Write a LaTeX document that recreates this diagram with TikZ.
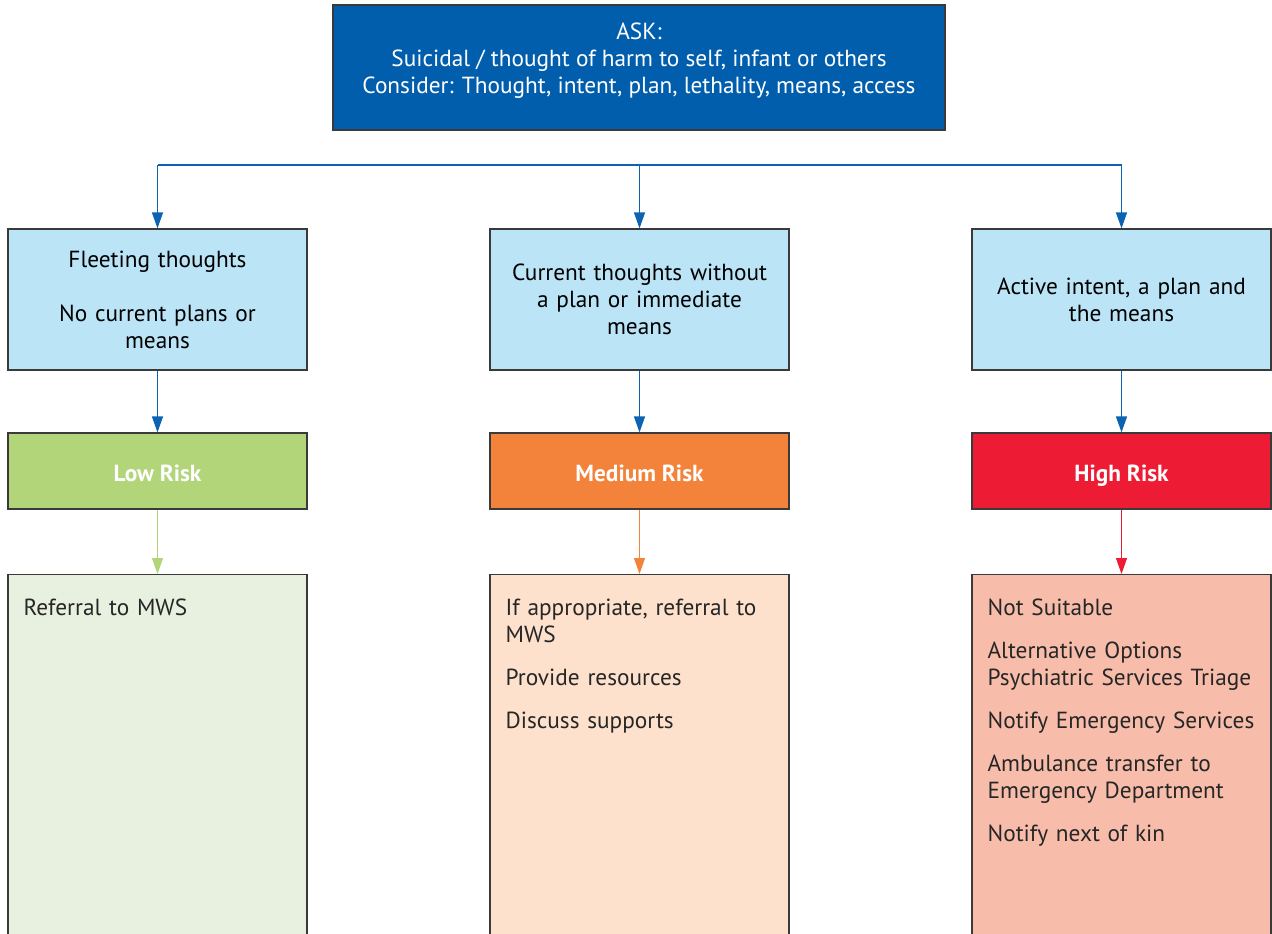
\documentclass[tikz,border=0pt]{standalone}
\usepackage{fontspec}
\setmainfont{PT Sans}
\usetikzlibrary{arrows.meta}

\definecolor{askblue}{HTML}{005EAD}
\definecolor{paleblue}{HTML}{BBE4F7}
\definecolor{lineblue}{HTML}{0B63B1}
\definecolor{boxline}{HTML}{3A3A3A}
\definecolor{lowgreen}{HTML}{B2D57A}
\definecolor{medorange}{HTML}{F3823A}
\definecolor{highred}{HTML}{ED1B34}
\definecolor{lowpale}{HTML}{E8F0DF}
\definecolor{medpale}{HTML}{FDE1CC}
\definecolor{highpale}{HTML}{F8BDAA}

\tikzset{
  every node/.style={font=\fontsize{23.3}{27}\selectfont},
  askbox/.style={draw=boxline, fill=askblue, line width=1.2pt, minimum width=612, minimum height=125},
  levelbox/.style={draw=boxline, fill=paleblue, line width=1.2pt, minimum width=299, minimum height=141, text width=290, align=center},
  riskbox/.style={draw=boxline, line width=1.2pt, minimum width=299, minimum height=76, text height=23, text depth=3, text=white, font=\fontsize{23.3}{27}\selectfont\bfseries},
  actionbox/.style={draw=boxline, line width=1.2pt, minimum width=299, minimum height=420, anchor=north},
  actiontext/.style={anchor=north west, align=left, text width=280, inner sep=0pt, text=black!85},
  flow/.style={-{Triangle[width=11pt,length=16pt]}, line width=1.3pt, draw=lineblue},
}

\begin{document}
\begin{tikzpicture}[x=1pt, y=-1pt]
  \useasboundingbox (0,0) rectangle (1272,934);

  % question at the top
  \node[askbox] (ask) at (639,67.5) {};
  \node[text=white, align=center] (asktext) at (639,60.5) {ASK:\\Suicidal / thought of harm to self, infant or others\\Consider: Thought, intent, plan, lethality, means, access};

  % what the person reports
  \node[levelbox] (fleet) at (157.5,299.5) {Fleeting thoughts\\[27pt]No current plans or\\means};
  \node[levelbox] (current) at (639.5,299.5) {Current thoughts without\\a plan or immediate\\means};
  \node[levelbox] (active) at (1121.5,299.5) {Active intent, a plan and\\the means};

  \coordinate (bar) at (0,165);
  \draw[lineblue, line width=1.3pt] (fleet.north |- bar) -- (active.north |- bar);
  \draw[flow] (fleet.north |- bar) -- (fleet.north);
  \draw[flow] (current.north |- bar) -- (current.north);
  \draw[flow] (active.north |- bar) -- (active.north);

  % risk level
  \node[riskbox, fill=lowgreen] (low) at (157.5,471) {Low Risk};
  \node[riskbox, fill=medorange] (medium) at (639.5,471) {Medium Risk};
  \node[riskbox, fill=highred] (high) at (1121.5,471) {High Risk};

  \draw[flow] (fleet) -- (low);
  \draw[flow] (current) -- (medium);
  \draw[flow] (active) -- (high);

  % actions
  \node[actionbox, fill=lowpale] (lowact) at (157.5,574) {};
  \node[actionbox, fill=medpale] (medact) at (639.5,574) {};
  \node[actionbox, fill=highpale] (highact) at (1121.5,574) {};

  \draw[flow, draw=lowgreen, line width=1pt] (low) -- (lowact);
  \draw[flow, draw=medorange, line width=1pt] (medium) -- (medact);
  \draw[flow, draw=highred, line width=1pt] (high) -- (highact);

  \node[actiontext] (lowlist) at ([xshift=16, yshift=-25]lowact.north west) {Referral to MWS};
  \node[actiontext] (medlist) at ([xshift=16, yshift=-25]medact.north west) {If appropriate, referral to\\MWS\\[16pt]Provide resources\\[16pt]Discuss supports};
  \node[actiontext] (highlist) at ([xshift=16, yshift=-25]highact.north west) {Not Suitable\\[16pt]Alternative Options\\Psychiatric Services Triage\\[16pt]Notify Emergency Services\\[16pt]Ambulance transfer to\\Emergency Department\\[16pt]Notify next of kin};
\end{tikzpicture}
\end{document}
